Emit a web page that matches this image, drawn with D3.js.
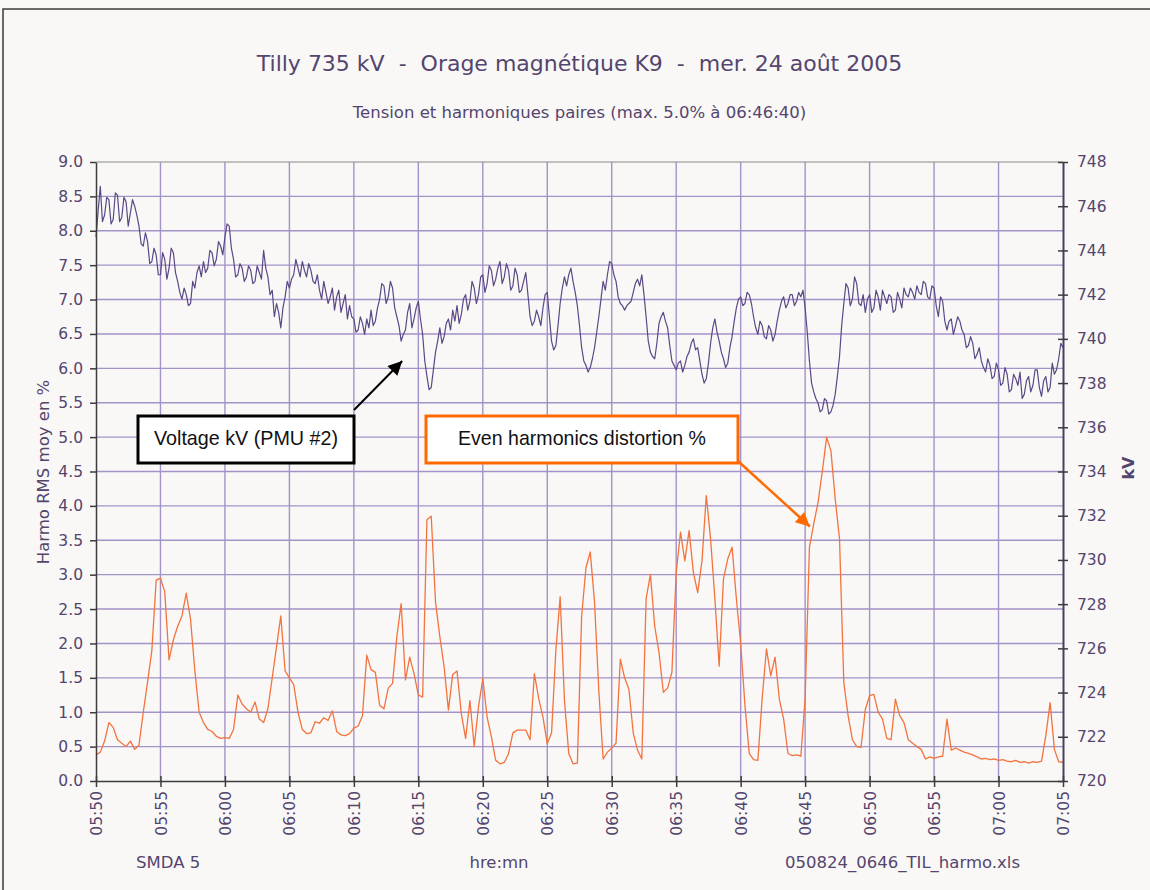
<!DOCTYPE html>
<html>
<head>
<meta charset="utf-8">
<script src="https://cdn.jsdelivr.net/npm/d3@7"></script>
<style>
  body { margin: 0; background: #fff; }
  svg { display: block; }
</style>
</head>
<body>
<div id="chart"></div>
<script>
// SMDA record starts at 05:50; voltage every 10 s, harmonics every 20 s
const startTime = new Date(2005, 7, 24, 5, 50, 0);
const voltStepSeconds = 10;
const harmoStepSeconds = 20;

// Voltage kV (PMU #2), right axis - one row per minute
const voltageKV = [
  744.6, 745.8, 746.9, 745.3, 745.6, 746.4,
  746.3, 745.2, 745.4, 746.6, 746.5, 745.3,
  745.5, 746.4, 746.2, 745.1, 745.7, 746.3,
  746.0, 745.6, 745.1, 744.3, 744.2, 744.8,
  744.4, 743.4, 743.5, 744.1, 743.8, 742.9,
  742.9, 743.9, 743.6, 742.7, 743.2, 744.1,
  743.9, 743.0, 742.6, 742.1, 741.8, 742.3,
  742.0, 741.5, 741.6, 742.6, 742.3, 743.0,
  743.3, 742.8, 743.5, 743.0, 743.2, 744.0,
  743.9, 743.3, 743.6, 744.4, 744.2, 743.8,
  744.6, 745.2, 745.1, 744.1, 743.6, 742.8,
  742.9, 743.4, 743.2, 742.6, 742.8, 743.3,
  743.1, 742.5, 742.6, 743.3, 743.0, 742.7,
  744.0, 743.2, 742.8, 742.0, 742.2, 741.0,
  741.6, 741.2, 740.5, 741.4, 741.9, 742.6,
  742.3, 742.7, 742.9, 743.6, 743.2, 742.8,
  743.5, 743.1, 742.8, 743.4, 743.1, 742.6,
  742.5, 742.9, 742.2, 741.8, 742.6, 742.1,
  741.6, 741.9, 742.3, 741.3, 741.9, 742.2,
  741.2, 741.6, 742.0, 740.9, 741.5, 741.0,
  740.9, 740.3, 740.4, 741.0, 740.7, 740.2,
  740.9, 740.5, 741.3, 740.6, 740.8, 741.4,
  741.8, 742.5, 742.4, 741.6, 741.9, 742.6,
  742.3, 741.4, 741.0, 740.6, 739.9, 740.2,
  740.4, 741.2, 741.6, 740.5, 740.9, 741.4,
  741.7, 740.9, 740.2, 739.0, 738.3, 737.7,
  737.8, 738.6, 739.4, 739.9, 740.5, 739.8,
  740.1, 740.7, 740.9, 740.4, 741.3, 740.8,
  741.5, 740.7, 741.1, 741.8, 742.0, 741.3,
  741.7, 742.6, 742.3, 741.6, 742.0, 742.8,
  742.9, 742.1, 742.5, 743.3, 743.1, 742.4,
  742.7, 743.2, 743.5, 742.5, 742.8, 743.4,
  743.1, 742.2, 742.4, 743.2, 742.9, 742.1,
  742.2, 742.6, 743.0, 742.0, 741.0, 740.6,
  740.8, 741.3, 741.0, 740.6, 741.4, 742.0,
  742.1, 741.0, 739.9, 739.5, 739.7, 740.6,
  741.6, 742.3, 742.8, 742.4, 742.9, 743.2,
  742.6, 742.1, 741.5, 740.6, 739.6, 739.0,
  738.8, 738.5, 738.7, 739.1, 739.6, 740.3,
  741.0, 741.8, 742.6, 742.2, 742.9, 743.5,
  743.4, 742.9, 742.6, 741.9, 741.6, 741.5,
  741.3, 741.5, 741.6, 741.7, 742.1, 742.5,
  742.7, 742.4, 742.9, 742.0, 741.0, 739.9,
  739.4, 739.2, 739.1, 739.8, 740.7, 741.0,
  741.2, 740.8, 740.5, 739.7, 739.0, 738.8,
  738.6, 738.9, 739.0, 738.5, 738.8, 739.2,
  739.4, 739.8, 740.0, 739.5, 739.6, 739.0,
  738.4, 738.0, 738.2, 738.9, 739.8, 740.5,
  740.9, 740.3, 739.9, 739.4, 739.1, 738.7,
  738.9, 739.6, 740.1, 740.8, 741.4, 741.8,
  741.9, 741.5, 741.6, 742.1, 742.0, 741.6,
  741.0, 740.5, 740.2, 740.8, 740.6, 740.1,
  740.0, 740.6, 740.4, 739.9, 740.2, 740.8,
  741.3, 741.7, 741.9, 741.4, 741.6, 742.0,
  742.0, 741.5, 741.7, 742.1, 741.9, 742.2,
  741.4, 740.3, 739.0, 738.0, 737.6, 737.3,
  737.1, 736.7, 736.8, 737.3, 737.2, 736.6,
  736.7, 737.0, 737.5, 738.3, 739.2, 740.6,
  741.6, 742.5, 742.3, 741.5, 741.8, 742.8,
  742.5, 741.6, 741.5, 742.0, 741.2, 741.8,
  742.0, 741.2, 741.4, 742.2, 741.9, 741.3,
  742.2, 741.9, 741.6, 742.0, 741.9, 741.2,
  741.3, 742.1, 741.8, 741.4, 742.3, 742.0,
  741.9, 742.3, 742.1, 741.8, 742.4, 742.1,
  742.0, 742.6, 742.5, 741.9, 741.8, 742.4,
  742.3, 741.5, 741.0, 741.9, 741.7, 740.8,
  740.4, 740.8, 740.9, 740.2, 740.6, 741.0,
  740.8, 740.4, 740.2, 739.6, 739.7, 740.1,
  739.8, 739.1, 739.3, 739.6, 739.0, 738.7,
  738.5, 739.1, 738.8, 738.2, 738.3, 738.9,
  738.6, 737.9, 738.0, 738.7, 738.4, 737.6,
  737.7, 738.4, 738.2, 737.9, 738.5, 737.3,
  737.5, 738.1, 738.3, 737.6, 737.9, 738.6,
  738.6, 737.8, 737.4, 738.1, 738.3, 737.6,
  737.8, 738.9, 738.4, 738.6, 739.1, 739.8,
  739.6
];

// Even harmonics distortion %, left axis - one row per 4 minutes
const harmoPct = [
  0.38, 0.42, 0.58,  0.85, 0.78, 0.60,  0.55, 0.50, 0.58,  0.46, 0.52, 1.00,
  1.44, 1.90, 2.92,  2.95, 2.75, 1.76,  2.05, 2.25, 2.40,  2.73, 2.35, 1.60,
  1.00, 0.85, 0.75,  0.72, 0.65, 0.62,  0.63, 0.62, 0.75,  1.25, 1.12, 1.05,
  1.00, 1.15, 0.90,  0.85, 1.05, 1.50,  1.95, 2.40, 1.60,  1.50, 1.40, 1.00,
  0.75, 0.69, 0.70,  0.86, 0.84, 0.92,  0.88, 1.02, 0.72,  0.67, 0.66, 0.69,
  0.77, 0.80, 0.95,  1.83, 1.62, 1.58,  1.10, 1.05, 1.35,  1.42, 2.10, 2.58,
  1.47, 1.80, 1.56,  1.25, 1.22, 3.80,  3.85, 2.60, 2.10,  1.66, 1.03, 1.55,
  1.60, 0.98, 0.62,  1.17, 0.50, 1.08,  1.49, 0.93, 0.64,  0.30, 0.25, 0.27,
  0.40, 0.70, 0.74,  0.74, 0.74, 0.60,  1.56, 1.20, 0.93,  0.54, 0.70, 1.90,
  2.68, 1.17, 0.40,  0.25, 0.26, 2.40,  3.10, 3.33, 2.60,  1.30, 0.32, 0.42,
  0.48, 0.55, 1.77,  1.50, 1.33, 0.70,  0.45, 0.32, 2.65,  3.00, 2.25, 1.87,
  1.29, 1.35, 1.58,  3.03, 3.62, 3.20,  3.64, 3.03, 2.74,  3.20, 4.15, 3.52,
  2.65, 1.67, 2.94,  3.23, 3.40, 2.65,  2.00, 1.10, 0.40,  0.31, 0.30, 1.20,
  1.92, 1.53, 1.80,  1.19, 0.90, 0.40,  0.37, 0.38, 0.36,  1.20, 3.40, 3.74,
  4.05, 4.50, 5.00,  4.80, 4.10, 3.52,  1.43, 0.95, 0.60,  0.50, 0.49, 1.04,
  1.24, 1.26, 1.00,  0.90, 0.62, 0.60,  1.19, 0.95, 0.85,  0.60, 0.55, 0.50,
  0.46, 0.32, 0.35,  0.33, 0.35, 0.36,  0.90, 0.45, 0.48,  0.45, 0.42, 0.40,
  0.38, 0.35, 0.32,  0.33, 0.31, 0.32,  0.30, 0.31, 0.29,  0.28, 0.30, 0.27,
  0.28, 0.26, 0.28,  0.27, 0.29, 0.66,  1.14, 0.46, 0.28,  0.27
];

const leftTicks = [0, 0.5, 1, 1.5, 2, 2.5, 3, 3.5, 4, 4.5, 5, 5.5, 6, 6.5, 7, 7.5, 8, 8.5, 9];
const rightTicks = [720, 722, 724, 726, 728, 730, 732, 734, 736, 738, 740, 742, 744, 746, 748];
const timeTicks = ["05:50", "05:55", "06:00", "06:05", "06:10", "06:15", "06:20", "06:25",
                   "06:30", "06:35", "06:40", "06:45", "06:50", "06:55", "07:00", "07:05"];

const titleText = "Tilly 735 kV  -  Orage magnétique K9  -  mer. 24 août 2005";
const subtitleText = "Tension et harmoniques paires (max. 5.0% à 06:46:40)";

// annotation anchors (time, value) the arrows point at
const voltNote = { label: "Voltage kV (PMU #2)", time: "06:13:45", kv: 739.0 };
const harmoNote = { label: "Even harmonics distortion %", time: "06:45:22", pct: 3.7 };

const width = 1150, height = 890;
const plot = { left: 96, right: 1063, top: 162, bottom: 781 };

const purpleText = "#54456e";
const gridColor = "#a492c8";
const voltColor = "#5b4887";
const harmoColor = "#f3733f";
const orange = "#ff6a00";

const voltTimes = voltageKV.map((_, i) => new Date(startTime.getTime() + i * voltStepSeconds * 1000));
const harmoTimes = harmoPct.map((_, i) => new Date(startTime.getTime() + i * harmoStepSeconds * 1000));
const parseHM = d3.timeParse("%Y-%m-%d %H:%M");
const parseHMS = d3.timeParse("%Y-%m-%d %H:%M:%S");
const tickDates = timeTicks.map(t => parseHM("2005-08-24 " + t));

const x = d3.scaleTime().domain([tickDates[0], tickDates[tickDates.length - 1]]).range([plot.left, plot.right]);
const yL = d3.scaleLinear().domain([0, 9]).range([plot.bottom, plot.top]);
const yR = d3.scaleLinear().domain([720, 748]).range([plot.bottom, plot.top]);

const svg = d3.select("#chart").append("svg")
  .attr("width", width)
  .attr("height", height);

svg.append("rect").attr("width", width).attr("height", height).attr("fill", "#f9f8f6");

// outer frame (only left and top edges visible in the capture)
svg.append("path")
  .attr("d", `M3,${height} L3,9 L${width},9`)
  .attr("fill", "none")
  .attr("stroke", "#3a3a3a")
  .attr("stroke-width", 1.5);

// titles
svg.append("text")
  .attr("x", (plot.left + plot.right) / 2).attr("y", 71)
  .attr("text-anchor", "middle")
  .style("font-family", "DejaVu Sans, Verdana, sans-serif")
  .style("font-size", "22px")
  .style("white-space", "pre")
  .attr("fill", purpleText)
  .text(titleText);

svg.append("text")
  .attr("x", (plot.left + plot.right) / 2).attr("y", 118)
  .attr("text-anchor", "middle")
  .style("font-family", "DejaVu Sans, Verdana, sans-serif")
  .style("font-size", "16.5px")
  .attr("fill", purpleText)
  .text(subtitleText);

// grid
const grid = svg.append("g");
grid.selectAll(".hgrid")
  .data(leftTicks.slice(1, -1))
  .join("line")
  .attr("x1", plot.left).attr("x2", plot.right)
  .attr("y1", d => yL(d)).attr("y2", d => yL(d))
  .attr("stroke", gridColor).attr("stroke-width", 1.4);
grid.selectAll(".vgrid")
  .data(tickDates.slice(1, -1))
  .join("line")
  .attr("x1", d => x(d)).attr("x2", d => x(d))
  .attr("y1", plot.top).attr("y2", plot.bottom)
  .attr("stroke", gridColor).attr("stroke-width", 1.4);

// plot top border
svg.append("line")
  .attr("x1", plot.left).attr("x2", plot.right)
  .attr("y1", plot.top).attr("y2", plot.top)
  .attr("stroke", "#8a8a8a").attr("stroke-width", 1.2);

// series
const voltLine = d3.line().x((d, i) => x(voltTimes[i])).y(d => yR(d));
const harmoLine = d3.line().x((d, i) => x(harmoTimes[i])).y(d => yL(d));

svg.append("path")
  .datum(harmoPct)
  .attr("d", harmoLine)
  .attr("fill", "none")
  .attr("stroke", harmoColor)
  .attr("stroke-width", 1.3)
  .attr("stroke-linejoin", "round");

svg.append("path")
  .datum(voltageKV)
  .attr("d", voltLine)
  .attr("fill", "none")
  .attr("stroke", voltColor)
  .attr("stroke-width", 1.2)
  .attr("stroke-linejoin", "round");

// axes
const tickFont = g => g.selectAll("text")
  .style("font-family", "DejaVu Sans, Verdana, sans-serif")
  .style("font-size", "15.5px")
  .attr("fill", purpleText);

const leftAxis = svg.append("g")
  .attr("transform", `translate(${plot.left},0)`)
  .call(d3.axisLeft(yL).tickValues(leftTicks).tickFormat(d3.format(".1f")).tickSizeInner(6).tickSizeOuter(0).tickPadding(7))
  .call(tickFont);
leftAxis.select(".domain").attr("stroke", "#3c3c3c").attr("stroke-width", 1.5);
leftAxis.selectAll(".tick line").attr("stroke", "#3c3c3c").attr("stroke-width", 1.5);

const rightAxis = svg.append("g")
  .attr("transform", `translate(${plot.right},0)`)
  .call(d3.axisRight(yR).tickValues(rightTicks).tickSizeInner(5).tickSizeOuter(0).tickPadding(9))
  .call(tickFont);
rightAxis.select(".domain").attr("stroke", "#4a3e60").attr("stroke-width", 2);
rightAxis.selectAll(".tick line").attr("x1", -5).attr("stroke", "#3c3c3c").attr("stroke-width", 1.5);

const bottomAxis = svg.append("g")
  .attr("transform", `translate(0,${plot.bottom})`)
  .call(d3.axisBottom(x).tickValues(tickDates).tickFormat(d3.timeFormat("%H:%M")).tickSizeInner(6).tickSizeOuter(0))
  .call(tickFont);
bottomAxis.select(".domain").attr("stroke", "#3c3c3c").attr("stroke-width", 1.5);
bottomAxis.selectAll(".tick line").attr("y1", -5).attr("stroke", "#3c3c3c").attr("stroke-width", 1.5);
bottomAxis.selectAll(".tick text")
  .attr("transform", "rotate(-90)")
  .attr("text-anchor", "end")
  .attr("x", -10)
  .attr("y", 0)
  .attr("dy", "0.36em");

// axis titles
svg.append("text")
  .attr("transform", "translate(49,472) rotate(-90)")
  .attr("text-anchor", "middle")
  .style("font-family", "DejaVu Sans, Verdana, sans-serif")
  .style("font-size", "16.5px")
  .attr("fill", purpleText)
  .text("Harmo RMS moy en %");

svg.append("text")
  .attr("transform", "translate(1134,468) rotate(-90)")
  .attr("text-anchor", "middle")
  .style("font-family", "DejaVu Sans, Verdana, sans-serif")
  .style("font-size", "16px")
  .style("font-weight", "bold")
  .attr("fill", purpleText)
  .text("kV");

// footer
const footer = [
  { text: "SMDA 5", x: 136, anchor: "start" },
  { text: "hre:mn", x: 499, anchor: "middle" },
  { text: "050824_0646_TIL_harmo.xls", x: 785, anchor: "start" }
];
svg.selectAll(".footer")
  .data(footer)
  .join("text")
  .attr("x", d => d.x).attr("y", 868)
  .attr("text-anchor", d => d.anchor)
  .style("font-family", "DejaVu Sans, Verdana, sans-serif")
  .style("font-size", "16.5px")
  .attr("fill", purpleText)
  .text(d => d.text);

// arrow heads
const defs = svg.append("defs");
[["arrowBlack", "#000"], ["arrowOrange", orange]].forEach(([id, col]) => {
  defs.append("marker")
    .attr("id", id)
    .attr("viewBox", "0 0 10 10")
    .attr("refX", 10).attr("refY", 5)
    .attr("markerUnits", "userSpaceOnUse")
    .attr("markerWidth", 17).attr("markerHeight", 14)
    .attr("orient", "auto")
    .append("path")
    .attr("d", "M0,0 L10,5 L0,10 z")
    .attr("fill", col);
});

// annotations
function note(box, label, color, textWidth) {
  svg.append("rect")
    .attr("x", box.x).attr("y", box.y)
    .attr("width", box.w).attr("height", box.h)
    .attr("fill", "#fff")
    .attr("stroke", color)
    .attr("stroke-width", 3);
  svg.append("text")
    .attr("x", box.x + box.w / 2).attr("y", box.y + 29)
    .attr("text-anchor", "middle")
    .attr("textLength", textWidth)
    .attr("lengthAdjust", "spacingAndGlyphs")
    .style("font-family", "Liberation Sans, Arial, sans-serif")
    .style("font-size", "21px")
    .attr("fill", "#111")
    .text(label);
}

const voltBox = { x: 138, y: 416, w: 216, h: 47 };
const harmoBox = { x: 426, y: 416, w: 312, h: 47 };

svg.append("line")
  .attr("x1", voltBox.x + voltBox.w).attr("y1", voltBox.y - 6)
  .attr("x2", x(parseHMS("2005-08-24 " + voltNote.time)))
  .attr("y2", yR(voltNote.kv))
  .attr("stroke", "#000").attr("stroke-width", 2)
  .attr("marker-end", "url(#arrowBlack)");

svg.append("line")
  .attr("x1", harmoBox.x + harmoBox.w).attr("y1", harmoBox.y + harmoBox.h - 2)
  .attr("x2", x(parseHMS("2005-08-24 " + harmoNote.time)))
  .attr("y2", yL(harmoNote.pct))
  .attr("stroke", orange).attr("stroke-width", 2.5)
  .attr("marker-end", "url(#arrowOrange)");

note(voltBox, voltNote.label, "#000", 184);
note(harmoBox, harmoNote.label, orange, 248);
</script>
</body>
</html>
